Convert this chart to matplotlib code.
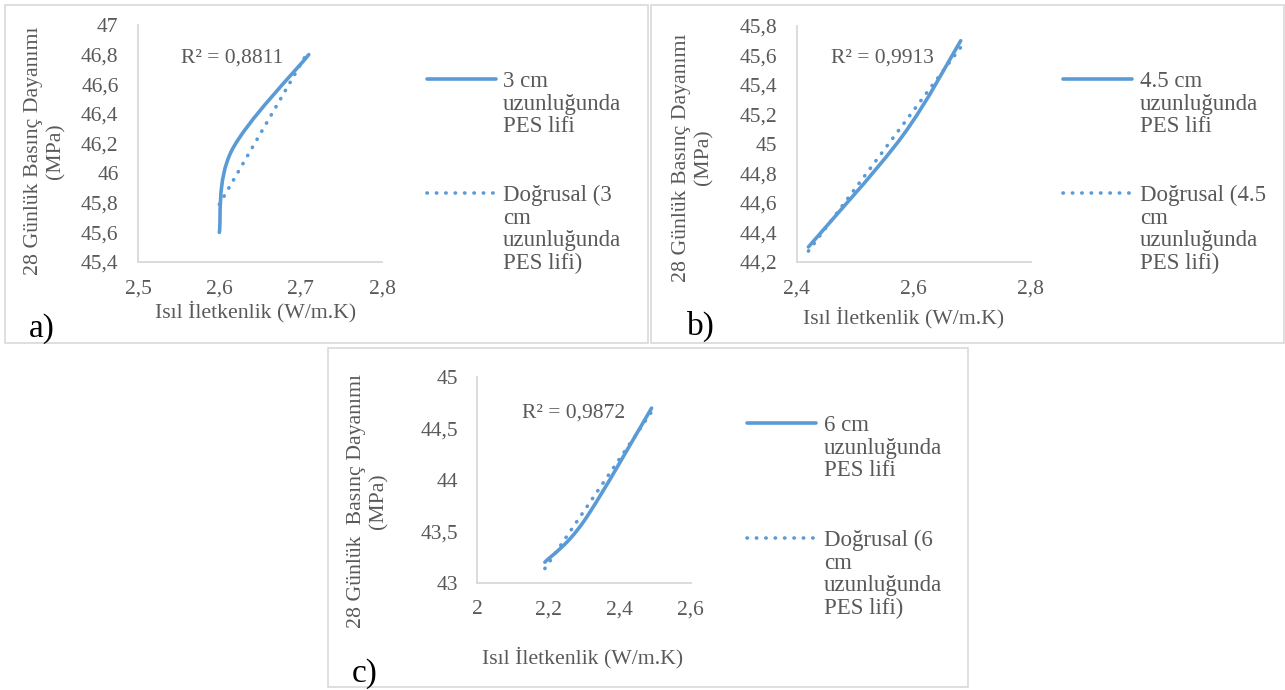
import numpy as np
import matplotlib
matplotlib.use("Agg")
import matplotlib.pyplot as plt
from matplotlib.path import Path
from matplotlib.patches import PathPatch, Rectangle
from matplotlib.lines import Line2D

# ---------------- data ----------------
a_x = [2.600, 2.615, 2.710]
a_y = [45.60, 46.15, 46.80]
b_x = [2.42, 2.58, 2.68]
b_y = [44.30, 45.05, 45.70]
c_x = [2.19, 2.30, 2.49]
c_y = [43.20, 43.60, 44.70]

r2_texts = ["R² = 0,8811", "R² = 0,9913", "R² = 0,9872"]
series_names = ["3 cm\nuzunluğunda\nPES lifi",
                "4.5 cm\nuzunluğunda\nPES lifi",
                "6 cm\nuzunluğunda\nPES lifi"]
trend_names = ["Doğrusal (3\ncm\nuzunluğunda\nPES lifi)",
               "Doğrusal (4.5\ncm\nuzunluğunda\nPES lifi)",
               "Doğrusal (6\ncm\nuzunluğunda\nPES lifi)"]
panel_tags = ["a)", "b)", "c)"]
xlabel_text = "Isıl İletkenlik (W/m.K)"
ylabel_texts = ["28 Günlük Basınç Dayanımı\n(MPa)",
                "28 Günlük Basınç Dayanımı\n(MPa)",
                "28 Günlük  Basınç Dayanımı\n(MPa)"]

a_xticks = [2.5, 2.6, 2.7, 2.8]
a_xticklabels = ["2,5", "2,6", "2,7", "2,8"]
a_yticks = [45.4, 45.6, 45.8, 46.0, 46.2, 46.4, 46.6, 46.8, 47.0]
a_yticklabels = ["45,4", "45,6", "45,8", "46", "46,2", "46,4", "46,6", "46,8", "47"]
b_xticks = [2.4, 2.6, 2.8]
b_xticklabels = ["2,4", "2,6", "2,8"]
b_yticks = [44.2, 44.4, 44.6, 44.8, 45.0, 45.2, 45.4, 45.6, 45.8]
b_yticklabels = ["44,2", "44,4", "44,6", "44,8", "45", "45,2", "45,4", "45,6", "45,8"]
c_xticks = [2.0, 2.2, 2.4, 2.6]
c_xticklabels = ["2", "2,2", "2,4", "2,6"]
c_yticks = [43.0, 43.5, 44.0, 44.5, 45.0]
c_yticklabels = ["43", "43,5", "44", "44,5", "45"]

# ---------------- style ----------------
BLUE = "#5B9BD5"
GREY_TXT = "#595959"
GREY_LINE = "#D9D9D9"
FONT = ["Liberation Serif", "DejaVu Serif"]
plt.rcParams["font.family"] = FONT

W, H = 1285, 690
fig = plt.figure(figsize=(W / 100, H / 100), dpi=100)


def fx(px):
    return px / W


def fy(py):
    return 1 - py / H


def smooth_path(xs, ys):
    """Excel-like smoothed line: cubic Bezier through the points (Catmull-Rom)."""
    P = np.column_stack([xs, ys]).astype(float)
    n = len(P)
    verts = [P[0]]
    codes = [Path.MOVETO]
    for i in range(n - 1):
        p0 = P[i - 1] if i > 0 else P[i]
        p1, p2 = P[i], P[i + 1]
        p3 = P[i + 2] if i + 2 < n else P[i + 1]
        c1 = p1 + (p2 - p0) / 6.0
        c2 = p2 - (p3 - p1) / 6.0
        verts += [c1, c2, p2]
        codes += [Path.CURVE4] * 3
    return Path(verts, codes)


panels = [
    dict(x=a_x, y=a_y, xt=a_xticks, xtl=a_xticklabels, yt=a_yticks, ytl=a_yticklabels,
         frame=(5, 5, 648, 343), ax=(138, 25, 382, 262),
         ylab=(-0.381, 0.468), xlab=(0.48, -0.211), r2=(0.385, 0.861),
         leg=(427, 496, 503, 79, 193), tag=(29, 337)),
    dict(x=b_x, y=b_y, xt=b_xticks, xtl=b_xticklabels, yt=b_yticks, ytl=b_yticklabels,
         frame=(651, 5, 1284, 343), ax=(796.7, 26, 1031, 261.7),
         ylab=(-0.445, 0.442), xlab=(0.458, -0.239), r2=(0.368, 0.864),
         leg=(1063, 1132, 1140, 79, 193), tag=(687, 335)),
    dict(x=c_x, y=c_y, xt=c_xticks, xtl=c_xticklabels, yt=c_yticks, ytl=c_yticklabels,
         frame=(328, 348, 968, 687), ax=(477.3, 377.3, 690.7, 582.7),
         ylab=(-0.514, 0.398), xlab=(0.491, -0.367), r2=(0.453, 0.826),
         leg=(747, 816, 824, 423, 538), tag=(352, 682)),
]

for i, p in enumerate(panels):
    x0, y0, x1, y1 = p["frame"]
    fig.add_artist(Rectangle((fx(x0), fy(y1)), (x1 - x0) / W, (y1 - y0) / H,
                             transform=fig.transFigure, fill=False,
                             ec=GREY_LINE, lw=1.2, zorder=0))
    ax0, ay0, ax1, ay1 = p["ax"]
    ax = fig.add_axes([fx(ax0), fy(ay1), (ax1 - ax0) / W, (ay1 - ay0) / H])
    ax.patch.set_visible(False)
    for s in ["top", "right"]:
        ax.spines[s].set_visible(False)
    for s in ["left", "bottom"]:
        ax.spines[s].set_color(GREY_LINE)
        ax.spines[s].set_linewidth(1.3)
    ax.set_xlim(p["xt"][0], p["xt"][-1])
    ax.set_ylim(p["yt"][0], p["yt"][-1])
    ax.set_xticks(p["xt"], p["xtl"])
    ax.set_yticks(p["yt"], p["ytl"])
    ax.tick_params(axis="both", length=0, labelsize=15.5, labelcolor=GREY_TXT)
    ax.tick_params(axis="x", pad=12.5)
    ax.tick_params(axis="y", pad=14)

    # data series (smoothed line)
    ax.add_patch(PathPatch(smooth_path(p["x"], p["y"]), fill=False, ec=BLUE,
                           lw=2.6, capstyle="round", joinstyle="round",
                           clip_on=False, zorder=3))
    # linear trend line
    k, m = np.polyfit(p["x"], p["y"], 1)
    tx = np.array([min(p["x"]), max(p["x"])])
    ax.plot(tx, k * tx + m, color=BLUE, lw=2.6, linestyle=(0, (0.1, 2.5)),
            dash_capstyle="round", clip_on=False, zorder=4)

    ax.text(p["r2"][0], p["r2"][1], r2_texts[i], transform=ax.transAxes,
            ha="center", va="center", fontsize=15.5, color=GREY_TXT)

    ax.set_xlabel(xlabel_text, fontsize=15.7, color=GREY_TXT, va="center", ha="center")
    ax.xaxis.set_label_coords(*p["xlab"])
    ax.set_ylabel(ylabel_texts[i], fontsize=15.7, color=GREY_TXT, va="center",
                  ha="center", linespacing=1.24)
    ax.yaxis.set_label_coords(*p["ylab"])

    # legend (drawn in figure space)
    lx0, lx1, tx0, ly1, ly2 = p["leg"]
    fig.add_artist(Line2D([fx(lx0), fx(lx1)], [fy(ly1), fy(ly1)],
                          transform=fig.transFigure, color=BLUE, lw=2.6,
                          solid_capstyle="round"))
    fig.add_artist(Line2D([fx(lx0), fx(lx1)], [fy(ly2), fy(ly2)],
                          transform=fig.transFigure, color=BLUE, lw=2.6,
                          linestyle=(0, (0.1, 2.5)), dash_capstyle="round"))
    fig.text(fx(tx0), fy(ly1 - 8), series_names[i], ha="left", va="top",
             fontsize=16.5, color=GREY_TXT, linespacing=1.1)
    fig.text(fx(tx0), fy(ly2 - 8), trend_names[i], ha="left", va="top",
             fontsize=16.5, color=GREY_TXT, linespacing=1.1)

    fig.text(fx(p["tag"][0]), fy(p["tag"][1]), panel_tags[i], ha="left",
             va="baseline", fontsize=24, color="black")

fig.savefig("out.png", dpi=100)
